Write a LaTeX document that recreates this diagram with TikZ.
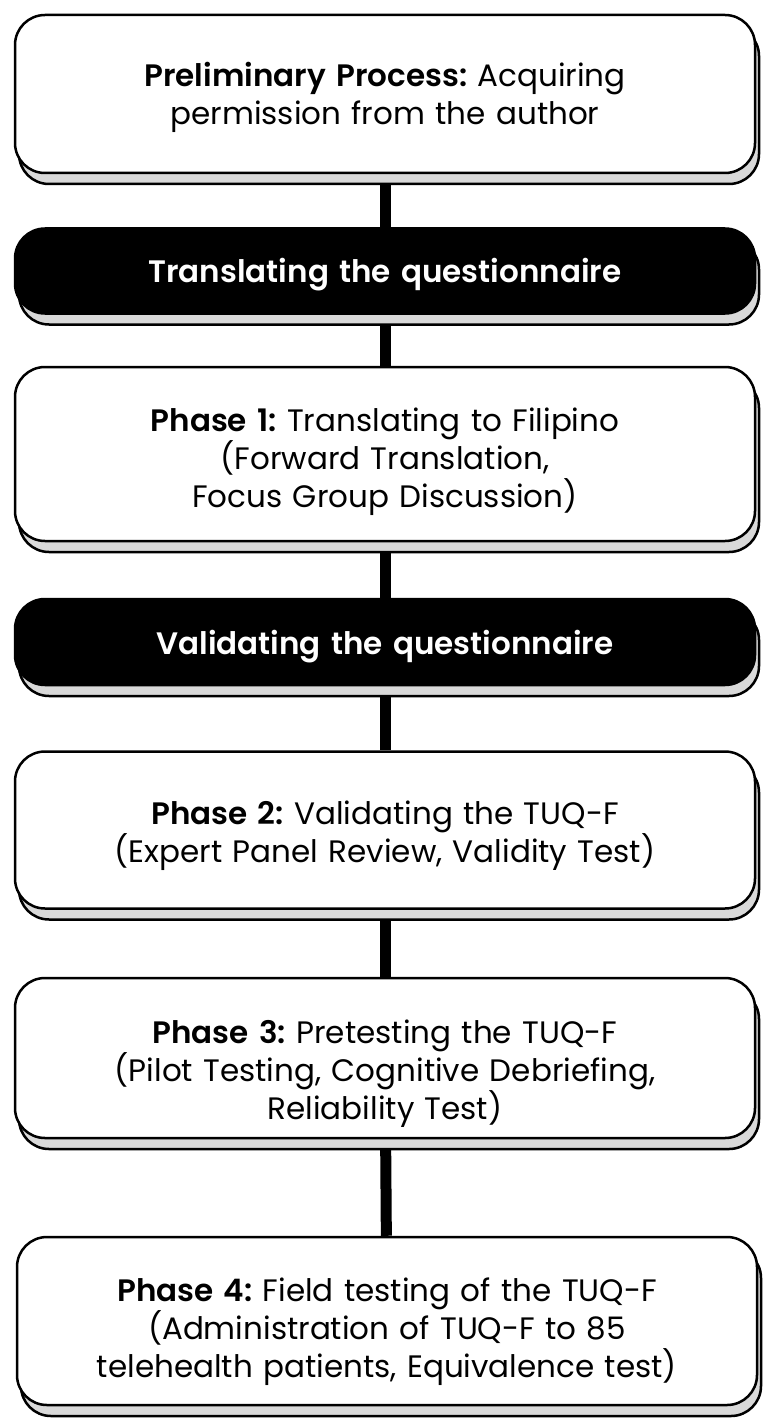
\documentclass[tikz,border=0pt]{standalone}
\usepackage{fontspec}
\setmainfont{Poppins}[BoldFont = {Poppins SemiBold}]
\usetikzlibrary{shadows,backgrounds}
\frenchspacing
\tikzset{
    phase/.style =
        {
            rectangle,
            draw = black,
            line width = 2.5pt,
            fill = white,
            rounded corners = 30pt,
            align = center,
            text width = 720pt,
            minimum width = 740pt,
            font = \fontsize{31}{38}\selectfont,
            general shadow = {shadow xshift = 4pt, shadow yshift = -11pt,
                              fill = black!15, draw = black, line width = 2.5pt}
        },
    stage/.style =
        {
            phase,
            fill = black,
            text = white,
            font = \fontsize{31}{38}\selectfont\bfseries
        },
    % taller first line, so the text sits lower in its box
    drop/.style =
        {
            execute at begin node = {\rule{0pt}{#1}}
        },
    link/.style =
        {
            line width = 11pt,
            draw = black
        }
}
\begin{document}
\begin{tikzpicture}[x=1pt, y=1pt]
    \useasboundingbox (0,0) rectangle (764,-1423);
    \node [phase, drop = 31pt, minimum height = 158pt] (prelim) at (385,-94)
        {\textbf{Preliminary Process:} Acquiring\\ permission from the author};
    \node [stage, drop = 31pt, minimum height = 85pt] (translate) at (385,-271)
        {Translating the questionnaire};
    \node [phase, drop = 39pt, minimum height = 174pt] (phase1) at (385,-454)
        {\textbf{Phase 1:} Translating to Filipino\\ (Forward Translation,\\ Focus Group Discussion)};
    \node [stage, drop = 33pt, minimum height = 86pt] (validate) at (385,-642)
        {Validating the questionnaire};
    \node [phase, drop = 35pt, minimum height = 157pt] (phase2) at (385,-830)
        {\textbf{Phase 2:} Validating the TUQ-F\\ (Expert Panel Review, Validity Test)};
    \node [phase, drop = 55pt, minimum height = 160pt] (phase3) at (385,-1058)
        {\textbf{Phase 3:} Pretesting the TUQ-F\\ (Pilot Testing, Cognitive Debriefing,\\ Reliability Test)};
    \node [phase, drop = 45pt, minimum height = 168pt] (phase4) at (387,-1321)
        {\textbf{Phase 4:} Field testing of the TUQ-F\\ (Administration of TUQ-F to 85\\ telehealth patients, Equivalence test)};
    \begin{pgfonlayer}{background}
        \path [link] (prelim) -- (translate);
        \path [link] (translate) -- (phase1);
        \path [link] (phase1) -- (validate);
        \path [link] (validate) -- (phase2);
        \path [link] (phase2) -- (phase3);
        \path [link] (phase3) -- (phase4);
    \end{pgfonlayer}
\end{tikzpicture}
\end{document}
